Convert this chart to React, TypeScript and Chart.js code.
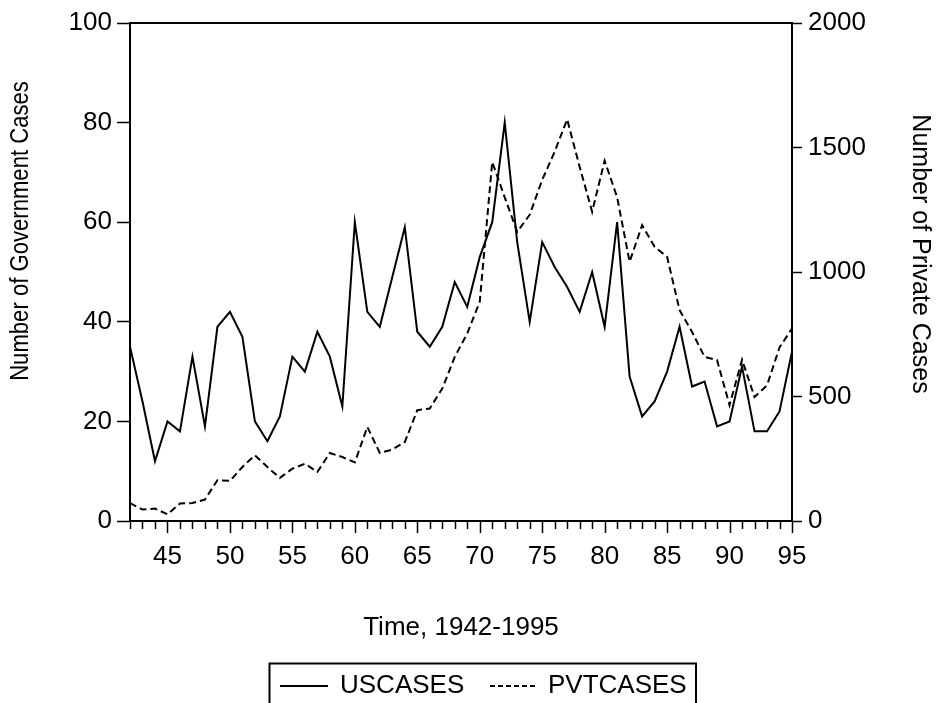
import React, { useEffect, useRef } from 'react';
import { Chart, registerables } from 'chart.js';

Chart.register(...registerables);

// ---- data ----
const years = [
  1942, 1943, 1944, 1945, 1946, 1947, 1948, 1949, 1950, 1951,
  1952, 1953, 1954, 1955, 1956, 1957, 1958, 1959, 1960, 1961,
  1962, 1963, 1964, 1965, 1966, 1967, 1968, 1969, 1970, 1971,
  1972, 1973, 1974, 1975, 1976, 1977, 1978, 1979, 1980, 1981,
  1982, 1983, 1984, 1985, 1986, 1987, 1988, 1989, 1990, 1991,
  1992, 1993, 1994, 1995,
];

const usCases = [
  35, 24, 12, 20, 18, 33, 19, 39, 42, 37,
  20, 16, 21, 33, 30, 38, 33, 23, 60, 42,
  39, 49, 59, 38, 35, 39, 48, 43, 53, 60,
  80, 56, 40, 56, 51, 47, 42, 50, 39, 60,
  29, 21, 24, 30, 39, 27, 28, 19, 20, 31,
  18, 18, 22, 34,
];

const pvtCases = [
  72, 46, 50, 27, 70, 72, 86, 164, 161, 217,
  264, 217, 173, 210, 230, 197, 273, 257, 235, 378,
  273, 287, 317, 445, 452, 532, 659, 753, 880, 1442,
  1300, 1161, 1230, 1370, 1483, 1613, 1422, 1242, 1447, 1300,
  1041, 1188, 1101, 1061, 847, 759, 659, 646, 465, 648,
  498, 545, 697, 773,
];

const leftTicks = [0, 20, 40, 60, 80, 100];
const rightTicks = [0, 500, 1000, 1500, 2000];
const xLabelYears = [1945, 1950, 1955, 1960, 1965, 1970, 1975, 1980, 1985, 1990, 1995];

const seriesNames = ['USCASES', 'PVTCASES'];
const xTitle = 'Time, 1942-1995';
const leftTitle = 'Number of Government Cases';
const rightTitle = 'Number of Private Cases';

const FONT = '"Liberation Sans", Arial, Helvetica, sans-serif';

const decorPlugin = {
  id: 'decor',
  afterDraw(chart: any) {
    const ctx = chart.ctx;
    const area = chart.chartArea;
    ctx.save();
    ctx.strokeStyle = '#000';
    ctx.fillStyle = '#000';

    // top frame line
    ctx.lineWidth = 2;
    ctx.beginPath();
    ctx.moveTo(area.left - 1, area.top);
    ctx.lineTo(area.right + 1, area.top);
    ctx.stroke();

    // x ticks (major every 5 years, minor every year)
    const xs = chart.scales.x;
    ctx.lineWidth = 1.5;
    for (const t of xs.ticks) {
      const px = Math.round(xs.getPixelForValue(t.value)) + 0.5;
      const len = xLabelYears.includes(t.value) ? 12 : 8;
      ctx.beginPath();
      ctx.moveTo(px, area.bottom);
      ctx.lineTo(px, area.bottom + len);
      ctx.stroke();
    }

    // y axis titles
    ctx.textAlign = 'center';
    ctx.textBaseline = 'middle';
    ctx.save();
    ctx.translate(21, 231);
    ctx.rotate(-Math.PI / 2);
    ctx.scale(0.85, 1);
    ctx.font = `26px ${FONT}`;
    ctx.fillText(leftTitle, 0, 0);
    ctx.restore();

    ctx.save();
    ctx.translate(920, 254);
    ctx.rotate(Math.PI / 2);
    ctx.font = `25px ${FONT}`;
    ctx.fillText(rightTitle, 0, 0);
    ctx.restore();

    // legend box
    ctx.lineWidth = 2;
    ctx.strokeRect(269.5, 663.5, 426.5, 60);
    const ly = 686;
    ctx.lineWidth = 2;
    ctx.setLineDash([]);
    ctx.beginPath();
    ctx.moveTo(280, ly);
    ctx.lineTo(328, ly);
    ctx.stroke();
    ctx.setLineDash([5, 3]);
    ctx.beginPath();
    ctx.moveTo(490, ly);
    ctx.lineTo(538, ly);
    ctx.stroke();
    ctx.setLineDash([]);
    ctx.font = `26px ${FONT}`;
    ctx.textAlign = 'left';
    ctx.textBaseline = 'middle';
    ctx.fillText(seriesNames[0], 340, ly);
    ctx.fillText(seriesNames[1], 548, ly);

    ctx.restore();
  },
};

export default function App() {
  const ref = useRef<HTMLCanvasElement | null>(null);

  useEffect(() => {
    if (!ref.current) return;
    Chart.defaults.font.family = FONT;
    const chart = new Chart(ref.current, {
      type: 'line',
      data: {
        datasets: [
          {
            label: seriesNames[0],
            data: years.map((y, i) => ({ x: y, y: usCases[i] })),
            borderColor: '#000',
            borderWidth: 2,
            pointRadius: 0,
            tension: 0,
            fill: false,
            yAxisID: 'y',
          },
          {
            label: seriesNames[1],
            data: years.map((y, i) => ({ x: y, y: pvtCases[i] })),
            borderColor: '#000',
            borderWidth: 2,
            borderDash: [7, 4],
            pointRadius: 0,
            tension: 0,
            fill: false,
            yAxisID: 'y1',
          },
        ],
      },
      options: {
        animation: false,
        responsive: false,
        maintainAspectRatio: false,
        layout: { padding: { top: 23, bottom: 60, left: 0, right: 0 } },
        plugins: {
          legend: { display: false },
          tooltip: { enabled: false },
        },
        scales: {
          x: {
            type: 'linear',
            position: 'bottom',
            min: years[0],
            max: years[years.length - 1],
            afterFit: (s: any) => {
              s.height = 122;
            },
            grid: { display: false },
            border: { display: true, color: '#000', width: 2 },
            ticks: {
              stepSize: 1,
              autoSkip: false,
              maxRotation: 0,
              minRotation: 0,
              padding: 12,
              color: '#000',
              font: { family: FONT, size: 26 },
              callback: (v: any) =>
                xLabelYears.includes(Number(v)) ? String(v).slice(2) : '',
            },
            title: {
              display: true,
              text: xTitle,
              color: '#000',
              font: { family: FONT, size: 26 },
              padding: { top: 0, bottom: 0 },
            },
          },
          y: {
            type: 'linear',
            position: 'left',
            min: leftTicks[0],
            max: leftTicks[leftTicks.length - 1],
            afterFit: (s: any) => {
              s.width = 130;
            },
            grid: {
              drawOnChartArea: false,
              drawTicks: true,
              tickLength: 13,
              tickColor: '#000',
              tickWidth: 1.5,
            },
            border: { display: true, color: '#000', width: 2 },
            ticks: {
              stepSize: leftTicks[1] - leftTicks[0],
              padding: 5,
              color: '#000',
              font: { family: FONT, size: 26 },
              callback: (v: any) => String(v),
            },
          },
          y1: {
            type: 'linear',
            position: 'right',
            min: rightTicks[0],
            max: rightTicks[rightTicks.length - 1],
            afterFit: (s: any) => {
              s.width = 150;
            },
            grid: {
              drawOnChartArea: false,
              drawTicks: true,
              tickLength: 10,
              tickColor: '#000',
              tickWidth: 1.5,
            },
            border: { display: true, color: '#000', width: 2 },
            ticks: {
              stepSize: rightTicks[1] - rightTicks[0],
              padding: 6,
              color: '#000',
              font: { family: FONT, size: 26 },
              callback: (v: any) => String(v),
            },
          },
        },
      },
      plugins: [decorPlugin],
    });
    return () => chart.destroy();
  }, []);

  return (
    <div style={{ position: 'absolute', left: 0, top: 0, width: 942, height: 703, background: '#fff' }}>
      <canvas ref={ref} width={942} height={703} style={{ display: 'block' }} />
    </div>
  );
}
